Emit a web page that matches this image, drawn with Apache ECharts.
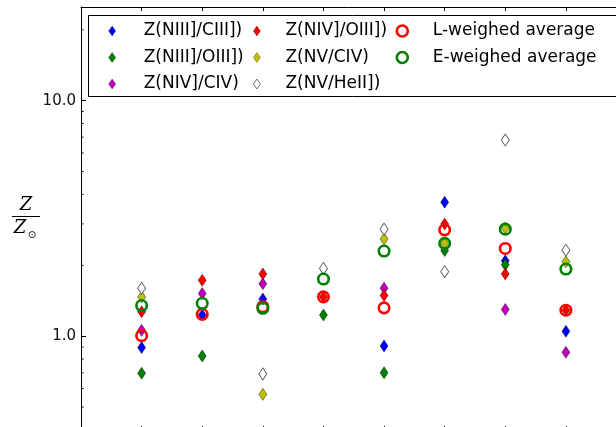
<!DOCTYPE html>
<html>
<head>
<meta charset="utf-8">
<script src="https://cdn.jsdelivr.net/npm/echarts@6/dist/echarts.min.js"></script>
<style>
  html, body { margin: 0; padding: 0; background: #fff; }
  #chart { width: 616px; height: 427px; }
</style>
</head>
<body>
<div id="chart"></div>
<script>
// Object index along the x axis (one column of markers per object)
const xPositions = [1, 2, 3, 4, 5, 6, 7, 8];

// Metallicity estimates Z/Zsun per line ratio (null = not available)
const zNiiiCiii = [0.895, 1.23, 1.44, null, 0.91, 3.71, 2.09, 1.05];
const zNiiiOiii = [0.697, 0.825, null, 1.23, 0.70, 2.31, 2.01, null];
const zNivCiv   = [1.06, 1.52, 1.67, null, 1.60, null, 1.30, 0.855];
const zNivOiii  = [1.27, 1.73, 1.84, 1.47, 1.49, 3.0, 1.84, 1.29];
const zNvCiv    = [1.47, null, 0.567, null, 2.59, 2.48, 2.88, 2.07];
const zNvHeii   = [1.60, null, 0.692, 1.94, 2.85, 1.88, 6.81, 2.32];
const lWeighted = [1.006, 1.24, 1.335, 1.47, 1.32, 2.83, 2.36, 1.29];
const eWeighted = [1.35, 1.38, 1.315, 1.75, 2.30, 2.48, 2.85, 1.93];

// Axis settings
const yMin = 0.4, yMax = 25;
const xMin = 0, xMax = 9;
const majorTickLabels = { 1: '1.0', 10: '10.0' };
const minorTickValues = [0.4, 0.5, 0.6, 0.7, 0.8, 0.9, 2, 3, 4, 5, 6, 7, 8, 9, 20];

const names = {
  niiiCiii: 'Z(NIII]/CIII])',
  niiiOiii: 'Z(NIII]/OIII])',
  nivCiv: 'Z(NIV]/CIV)',
  nivOiii: 'Z(NIV]/OIII])',
  nvCiv: 'Z(NV/CIV)',
  nvHeii: 'Z(NV/HeII])',
  lAvg: 'L-weighed average',
  eAvg: 'E-weighed average'
};

function pairs(vals) {
  const out = [];
  vals.forEach((v, i) => { if (v != null) out.push([xPositions[i], v]); });
  return out;
}

function diamondSeries(name, vals, fill, edge) {
  return {
    name: name, type: 'scatter', xAxisIndex: 0, yAxisIndex: 0,
    symbol: 'diamond', symbolSize: [8, 12],
    itemStyle: { color: fill, borderColor: edge, borderWidth: edge === '#000' ? 0.4 : 0.9, opacity: 1 },
    emphasis: { disabled: true },
    data: pairs(vals)
  };
}

function ringSeries(name, vals, color) {
  return {
    name: name, type: 'scatter', xAxisIndex: 0, yAxisIndex: 0,
    symbol: 'circle', symbolSize: 10.5,
    itemStyle: { color: 'rgba(0,0,0,0)', borderColor: color, borderWidth: 2.6, opacity: 1 },
    emphasis: { disabled: true },
    data: pairs(vals)
  };
}

const blue = '#0000ff', green = '#008000', red = '#ff0000',
      magenta = '#bf00bf', olive = '#bfbf00';

const legendText = { fontFamily: 'DejaVu Sans', fontSize: 17, color: '#000', lineHeight: 20 };

function diamondKey(name, fill, edge) {
  return { name: name, icon: 'diamond',
    itemStyle: { color: fill, borderColor: edge, borderWidth: edge === '#000' ? 0.3 : 0.8 } };
}
function ringKey(name, color) {
  return { name: name, icon: 'circle',
    itemStyle: { color: 'rgba(0,0,0,0)', borderColor: color, borderWidth: 2.6 } };
}

function legendCol(left, items, w, h, padLeft) {
  return {
    orient: 'vertical', left: left, top: 21, padding: 0,
    itemGap: 6.5, itemWidth: w, itemHeight: h,
    selectedMode: false,
    textStyle: Object.assign({ padding: [0, 0, 0, padLeft] }, legendText),
    data: items
  };
}

const chart = echarts.init(document.getElementById('chart'), null, { renderer: 'canvas' });

chart.setOption({
  animation: false,
  backgroundColor: '#fff',
  // the plot frame runs past the right and bottom edges of the page
  grid: { left: 81, top: 7, width: 545.5, height: 423, containLabel: false, outerBoundsMode: 'none' },
  xAxis: [
    {
      type: 'value', min: xMin, max: xMax, interval: 1, position: 'bottom',
      axisLine: { show: true, onZero: false, lineStyle: { color: '#000', width: 1 } },
      axisTick: { show: true, inside: true, length: 4, lineStyle: { color: '#000' } },
      axisLabel: { show: false }, splitLine: { show: false }
    },
    {
      type: 'value', min: xMin, max: xMax, interval: 1, position: 'top',
      axisLine: { show: true, onZero: false, lineStyle: { color: '#000', width: 1 } },
      axisTick: { show: true, inside: true, length: 4, lineStyle: { color: '#000' } },
      axisLabel: { show: false }, splitLine: { show: false }
    }
  ],
  yAxis: [
    {
      type: 'log', logBase: 10, min: yMin, max: yMax, position: 'left',
      axisLine: { show: true, onZero: false, lineStyle: { color: '#000', width: 1 } },
      axisTick: { show: true, inside: true, length: 5, lineStyle: { color: '#000' } },
      axisLabel: {
        show: true, margin: 5, color: '#111', fontFamily: 'DejaVu Sans', fontSize: 15,
        showMinLabel: false, showMaxLabel: false,
        formatter: v => majorTickLabels[Math.round(v * 1000) / 1000] || ''
      },
      splitLine: { show: false }
    }
  ],
  legend: [
    legendCol(108.5, [
      diamondKey(names.niiiCiii, blue, '#000'),
      diamondKey(names.niiiOiii, green, '#000'),
      diamondKey(names.nivCiv, magenta, '#000')
    ], 7, 10, 23),
    legendCol(253, [
      diamondKey(names.nivOiii, red, '#000'),
      diamondKey(names.nvCiv, olive, '#000'),
      diamondKey(names.nvHeii, '#fff', '#555')
    ], 7, 10, 20),
    legendCol(395.5, [
      ringKey(names.lAvg, red),
      ringKey(names.eAvg, green)
    ], 11, 11, 20)
  ],
  graphic: [
    // legend frame
    { type: 'rect', z: 1, silent: true,
      shape: { x: 88.5, y: 15.5, width: 560, height: 81 },
      style: { fill: '#fff', stroke: '#000', lineWidth: 1 } },
    // y-axis label: Z / Z_sun
    { type: 'text', silent: true, style: { text: 'Z', x: 26, y: 205, align: 'center', verticalAlign: 'middle',
      font: 'italic 18px "DejaVu Serif"', fill: '#000' } },
    { type: 'line', silent: true, shape: { x1: 12, y1: 216.5, x2: 40, y2: 216.5 },
      style: { stroke: '#000', lineWidth: 1 } },
    { type: 'text', silent: true, style: { text: 'Z', x: 20, y: 228, align: 'center', verticalAlign: 'middle',
      font: 'italic 18px "DejaVu Serif"', fill: '#000' } },
    { type: 'text', silent: true, style: { text: '\u2299', x: 32, y: 235.5, align: 'center', verticalAlign: 'middle',
      font: '10px "DejaVu Sans"', fill: '#000' } }
  ],
  series: [
    diamondSeries(names.niiiCiii, zNiiiCiii, blue, '#000'),
    diamondSeries(names.niiiOiii, zNiiiOiii, green, '#000'),
    diamondSeries(names.nivCiv, zNivCiv, magenta, '#000'),
    diamondSeries(names.nivOiii, zNivOiii, red, '#000'),
    diamondSeries(names.nvCiv, zNvCiv, olive, '#000'),
    diamondSeries(names.nvHeii, zNvHeii, '#fff', '#555'),
    ringSeries(names.lAvg, lWeighted, red),
    ringSeries(names.eAvg, eWeighted, green),
    {
      // minor ticks on the log axis at 2..9 of each decade
      type: 'custom', silent: true, clip: false, xAxisIndex: 0, yAxisIndex: 0,
      encode: { x: 0, y: 1 },
      data: minorTickValues.map(v => [xMin, v]),
      renderItem: function (params, api) {
        const p = api.coord([api.value(0), api.value(1)]);
        return { type: 'line', shape: { x1: p[0], y1: p[1], x2: p[0] + 2.5, y2: p[1] },
          style: { stroke: '#000', lineWidth: 1 } };
      }
    }
  ]
});
</script>
</body>
</html>
